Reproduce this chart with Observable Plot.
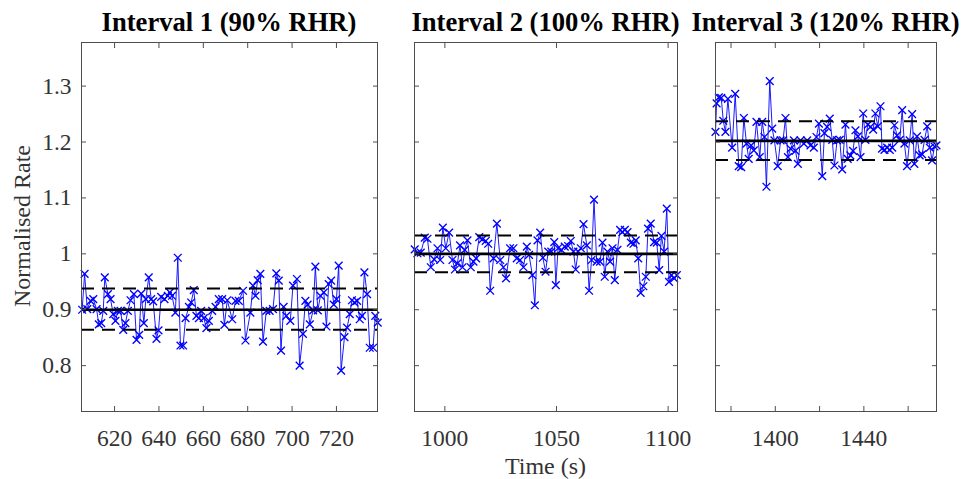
<!DOCTYPE html>
<html>
<head>
<meta charset="utf-8">
<script src="https://cdn.jsdelivr.net/npm/d3@7"></script>
<script src="https://cdn.jsdelivr.net/npm/@observablehq/plot@0.6"></script>
<style>
  html, body { margin: 0; padding: 0; background: #fff; }
  #wrap { position: relative; width: 964px; height: 479px; background: #fff; overflow: hidden; font-family: "Liberation Serif", "DejaVu Serif", serif; }
  .panel { position: absolute; top: 0; }
  .title { position: absolute; font-weight: bold; font-size: 26.6px; line-height: 26px; color: #000; white-space: nowrap; text-align: center; width: 320px; }
  .axlabel { position: absolute; font-size: 24px; line-height: 24px; color: #333; white-space: nowrap; text-align: center; width: 300px; }
</style>
</head>
<body>
<div id="wrap"></div>
<script>
// ---------- data ----------
const titles = ["Interval 1 (90% RHR)", "Interval 2 (100% RHR)", "Interval 3 (120% RHR)"];
const yLabel = "Normalised Rate";
const xLabel = "Time (s)";
const yDomain = [0.718, 1.378];
const yTicks = [0.8, 0.9, 1.0, 1.1, 1.2, 1.3];

const xDomain1 = [605.1, 738.5];
const xDomain2 = [986.4, 1104.2];
const xDomain3 = [1373.0, 1472.8];
const xTicks1 = [620, 640, 660, 680, 700, 720];
const xTicks2 = [1000, 1050, 1100];
const xTicks3 = [1380, 1400, 1420, 1440, 1460];
const xTickLabels1 = [620, 640, 660, 680, 700, 720];
const xTickLabels2 = [1000, 1050, 1100];
const xTickLabels3 = [1400, 1440];

const means = [0.900, 1.000, 1.202];
const upperBand = [0.938, 1.033, 1.237];
const lowerBand = [0.864, 0.967, 1.168];

const interval1 = [[605.4,.900],[606.5,.964],[607.7,.901],[609.2,.916],[610.4,.919],[611.9,.901],[612.9,.874],[614.0,.876],[614.9,.898],[615.6,.958],[617.0,.928],[618.2,.919],[619.4,.892],[620.4,.880],[621.5,.898],[622.7,.898],[623.9,.864],[624.9,.876],[626.0,.898],[627.2,.917],[628.7,.928],[629.9,.846],[631.1,.855],[632.0,.929],[633.2,.876],[634.1,.919],[635.4,.958],[636.5,.919],[637.4,.915],[638.9,.848],[639.8,.863],[641.0,.923],[642.5,.919],[644.0,.925],[644.9,.931],[645.9,.925],[647.4,.895],[648.5,.993],[649.7,.836],[650.9,.836],[652.0,.885],[653.5,.905],[654.5,.913],[655.7,.935],[656.9,.889],[658.0,.885],[659.0,.898],[660.2,.885],[661.4,.867],[662.5,.880],[664.0,.898],[665.5,.905],[667.0,.919],[668.5,.919],[669.5,.873],[670.8,.917],[673.0,.883],[674.5,.916],[676.0,.916],[677.9,.934],[679.0,.845],[681.2,.895],[682.4,.943],[683.5,.925],[684.5,.953],[685.7,.964],[686.9,.843],[688.4,.898],[689.9,.898],[691.4,.901],[692.9,.965],[694.0,.952],[695.0,.827],[696.2,.905],[697.4,.889],[699.2,.880],[700.4,.943],[702.2,.955],[703.4,.800],[704.9,.857],[706.0,.916],[707.0,.909],[708.0,.874],[709.5,.899],[710.5,.977],[711.6,.899],[712.8,.925],[714.3,.931],[715.5,.870],[716.5,.946],[717.6,.952],[718.8,.909],[720.0,.919],[721.0,.979],[722.1,.791],[723.6,.851],[724.8,.868],[726.0,.892],[727.0,.917],[728.1,.913],[729.3,.916],[730.5,.883],[731.5,.889],[732.6,.967],[733.8,.928],[735.0,.832],[736.5,.832],[737.5,.889],[738.6,.877]];

const interval2 = [[986.5,1.008],[987.7,1.001],[989.2,1.002],[991.0,1.029],[992.2,1.027],[993.7,.976],[995.2,.990],[996.7,1.010],[997.9,.989],[999.1,1.047],[1000.4,1.010],[1001.9,1.038],[1003.4,.989],[1004.5,.972],[1005.6,.983],[1006.8,1.015],[1007.9,.976],[1008.9,1.007],[1010.1,1.024],[1011.6,.976],[1012.8,.986],[1014.0,.992],[1015.4,1.030],[1016.8,1.026],[1018.3,1.023],[1019.4,1.018],[1020.3,.934],[1021.8,.992],[1023.3,1.054],[1024.8,.989],[1026.2,.976],[1027.4,.956],[1029.2,1.010],[1030.7,1.010],[1032.2,.992],[1033.7,.989],[1035.2,.976],[1036.7,1.013],[1037.7,.998],[1039.2,.962],[1040.3,.908],[1041.5,1.024],[1042.7,1.038],[1043.9,.993],[1045.1,.968],[1046.3,1.004],[1047.7,1.004],[1049.0,1.021],[1049.7,.944],[1050.7,1.010],[1052.2,1.007],[1053.7,1.013],[1055.2,1.014],[1056.4,1.023],[1057.6,1.004],[1058.6,.972],[1059.7,1.004],[1060.9,1.010],[1062.1,1.053],[1063.6,1.015],[1064.6,.934],[1065.7,.989],[1066.8,1.097],[1068.0,.986],[1069.5,.986],[1070.6,1.020],[1071.6,.959],[1072.8,1.004],[1074.0,.986],[1075.1,1.010],[1076.1,.953],[1077.3,1.007],[1078.5,1.043],[1079.5,1.039],[1080.6,1.043],[1081.8,1.039],[1083.3,1.020],[1084.5,1.018],[1085.5,1.024],[1086.6,.992],[1087.7,.930],[1088.9,.942],[1090.0,.959],[1091.0,1.045],[1092.2,1.054],[1093.7,1.021],[1094.9,1.020],[1096.0,.971],[1097.0,1.032],[1098.2,1.004],[1099.4,1.081],[1100.4,.950],[1101.5,.962],[1102.7,.956],[1103.9,.962]];

const interval3 = [[1373.0,1.218],[1373.5,1.269],[1374.5,1.280],[1375.6,1.279],[1376.5,1.238],[1377.5,1.218],[1378.6,1.277],[1380.5,1.190],[1381.9,1.286],[1383.5,1.157],[1384.6,1.155],[1385.8,1.243],[1387.0,1.197],[1388.0,1.170],[1389.1,1.194],[1390.3,1.185],[1391.5,1.236],[1393.0,1.173],[1394.1,1.236],[1395.1,1.209],[1396.0,1.120],[1397.5,1.309],[1398.6,1.224],[1399.6,1.203],[1401.1,1.157],[1402.4,1.203],[1403.5,1.203],[1404.6,1.243],[1405.7,1.173],[1406.9,1.188],[1408.4,1.203],[1409.1,1.184],[1410.2,1.161],[1411.4,1.203],[1412.9,1.197],[1414.4,1.203],[1415.9,1.194],[1417.4,1.190],[1418.6,1.209],[1419.7,1.233],[1421.2,1.139],[1422.2,1.216],[1423.4,1.227],[1424.6,1.242],[1425.7,1.204],[1426.7,1.158],[1427.9,1.203],[1429.1,1.204],[1430.2,1.151],[1431.7,1.231],[1432.7,1.170],[1433.9,1.176],[1435.1,1.184],[1436.2,1.221],[1437.3,1.210],[1438.5,1.173],[1439.7,1.251],[1440.7,1.204],[1441.8,1.231],[1443.0,1.227],[1444.2,1.222],[1445.2,1.251],[1446.3,1.228],[1447.5,1.264],[1448.2,1.188],[1449.3,1.186],[1450.5,1.190],[1451.7,1.186],[1452.8,1.190],[1453.8,1.230],[1455.0,1.212],[1456.2,1.204],[1457.3,1.257],[1458.3,1.197],[1459.5,1.157],[1460.7,1.203],[1461.8,1.250],[1462.8,1.161],[1464.0,1.210],[1465.2,1.176],[1466.3,1.178],[1467.4,1.204],[1468.6,1.228],[1469.8,1.190],[1470.8,1.167],[1471.9,1.192],[1472.8,1.194]];

// ---------- layout ----------
const H = 479, MT = 42, MB = 68;
const layout = [
  {left: 0,   width: 390, ml: 81, mr: 13},
  {left: 400, width: 290, ml: 14, mr: 13},
  {left: 700, width: 250, ml: 15, mr: 14}
];
const AX = "#333333", FRAME = "#4d4d4d", BLUE = "#0000ff";

function panel(data, xDomain, xTicks, xTickLabels, mean, up, lo, showY, lay) {
  const fmt = d => String(d);
  const marks = [
    Plot.line(data, {x: d => d[0], y: d => d[1], stroke: BLUE, strokeWidth: 0.9}),
    Plot.dot(data, {x: d => d[0], y: d => d[1], symbol: "times", r: 3.6, stroke: BLUE, strokeWidth: 1.35}),
    Plot.ruleY([mean], {stroke: "#000", strokeWidth: 2.6}),
    Plot.ruleY([up, lo], {stroke: "#000", strokeWidth: 2, strokeDasharray: "13,8"}),
    Plot.frame({stroke: FRAME, strokeWidth: 1}),
    Plot.axisX(xTicks, {anchor: "bottom", tickSize: -5, tickFormat: () => "", label: null, stroke: FRAME}),
    Plot.axisX(xTicks, {anchor: "top", tickSize: -5, tickFormat: () => "", label: null, stroke: FRAME}),
    Plot.axisX(xTickLabels, {anchor: "bottom", tickSize: 0, tickPadding: 18, tickFormat: fmt, label: null, fill: AX}),
    Plot.axisY(yTicks, {anchor: "left", tickSize: -5, tickFormat: () => "", label: null, stroke: FRAME}),
    Plot.axisY(yTicks, {anchor: "right", tickSize: -5, tickFormat: () => "", label: null, stroke: FRAME})
  ];
  if (showY) marks.push(Plot.axisY(yTicks, {anchor: "left", tickSize: 0, tickPadding: 10, tickFormat: fmt, label: null, fill: AX}));
  return Plot.plot({
    width: lay.width, height: H,
    marginLeft: lay.ml, marginRight: lay.mr, marginTop: MT, marginBottom: MB,
    style: {fontFamily: "'Liberation Serif', serif", fontSize: "23.5px", color: AX, background: "transparent", overflow: "visible"},
    x: {domain: xDomain, label: null},
    y: {domain: yDomain, label: null},
    marks
  });
}

const wrap = document.getElementById("wrap");
const specs = [
  [interval1, xDomain1, xTicks1, xTickLabels1],
  [interval2, xDomain2, xTicks2, xTickLabels2],
  [interval3, xDomain3, xTicks3, xTickLabels3]
];
specs.forEach((s, i) => {
  const lay = layout[i];
  const svg = panel(s[0], s[1], s[2], s[3], means[i], upperBand[i], lowerBand[i], i === 0, lay);
  const div = document.createElement("div");
  div.className = "panel";
  div.style.left = lay.left + "px";
  div.appendChild(svg);
  wrap.appendChild(div);
  const t = document.createElement("div");
  t.className = "title";
  t.textContent = titles[i];
  const cx = lay.left + lay.ml + (lay.width - lay.ml - lay.mr) / 2;
  t.style.left = (cx - 160) + "px";
  t.style.top = "9px";
  wrap.appendChild(t);
});

const yl = document.createElement("div");
yl.className = "axlabel";
yl.textContent = yLabel;
yl.style.left = (22 - 150) + "px";
yl.style.top = (226 - 12) + "px";
yl.style.transform = "rotate(-90deg)";
wrap.appendChild(yl);

const xl = document.createElement("div");
xl.className = "axlabel";
xl.textContent = xLabel;
const l2 = layout[1];
xl.style.left = (l2.left + l2.ml + (l2.width - l2.ml - l2.mr) / 2 - 150) + "px";
xl.style.top = "454px";
wrap.appendChild(xl);
</script>
</body>
</html>
